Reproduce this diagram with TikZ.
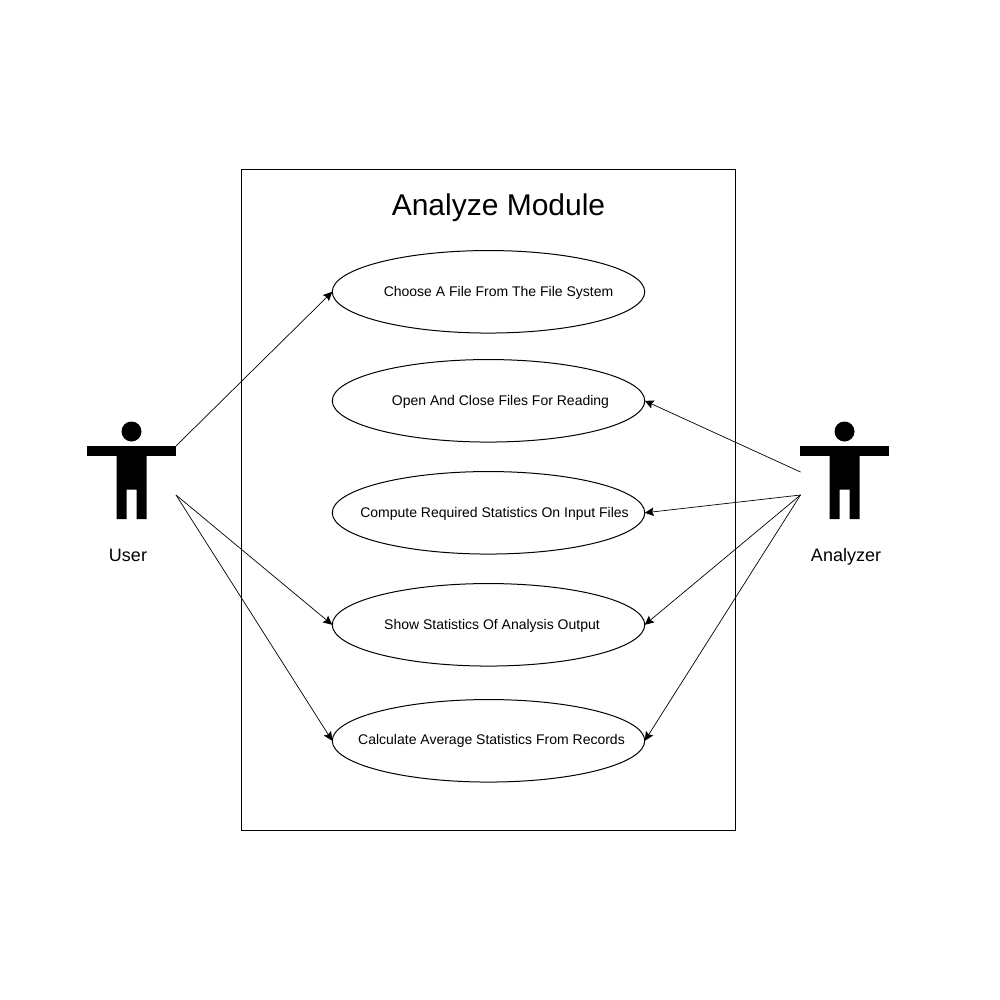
\documentclass[tikz,border=0pt]{standalone}
\usepackage{fontspec}
\setmainfont{Liberation Sans}
\usetikzlibrary{arrows.meta,shapes.geometric}

\tikzset{
  usecase/.style={draw,ellipse,minimum width=312.5pt,minimum height=82.5pt,inner sep=0pt,outer sep=0pt},
  caption/.style={inner sep=0pt,font=\fontsize{14}{16}\selectfont},
  actorname/.style={inner sep=0pt,font=\fontsize{18}{20}\selectfont},
  link/.style={-{Stealth[length=9pt,width=8.5pt,inset=1.5pt]},line width=0.7pt},
  actor/.pic={
    \fill (0,-14.5) circle (10pt);
    \fill (-44.5,0) rectangle (44.5,10);
    \fill (-15,10) -- (15,10) -- (15,73) -- (5,73) -- (5,43.5) -- (-5,43.5) -- (-5,73) -- (-15,73) -- cycle;
  }
}

\begin{document}
\begin{tikzpicture}[x=1pt,y=-1pt,line width=1pt]
  \useasboundingbox (0,0) rectangle (1000,1000);
  \draw (241.5,169.5) rectangle (735.5,830);
  \node[inner sep=0pt,font=\fontsize{30}{34}\selectfont] (title) at (498.5,207.5) {Analyze Module};

  % use cases
  \node[usecase] (choose) at (488.5,291.8) {};
  \node[usecase] (open) at (488.5,400.8) {};
  \node[usecase] (compute) at (488.5,512.8) {};
  \node[usecase] (show) at (488.5,624.8) {};
  \node[usecase] (calculate) at (488.5,740.8) {};
  \node[caption] (chooseText) at (498.5,293) {Choose A File From The File System};
  \node[caption] (openText) at (500.5,402) {Open And Close Files For Reading};
  \node[caption] (computeText) at (494.5,514) {Compute Required Statistics On Input Files};
  \node[caption] (showText) at (492,626) {Show Statistics Of Analysis Output};
  \node[caption] (calculateText) at (491.5,741) {Calculate Average Statistics From Records};

  % actors
  \pic at (131.5,446) {actor};
  \pic at (844.5,446) {actor};
  \node[actorname] (user) at (128,555) {User};
  \node[actorname] (analyzer) at (846,557) {Analyzer};
  \coordinate (userTop) at (176,446);
  \coordinate (userLow) at (176,495);
  \coordinate (analyzerTop) at (800.5,472);
  \coordinate (analyzerLow) at (800.5,495);

  \draw[link] (userTop) -- (choose.west);
  \draw[link] (userLow) -- (show.west);
  \draw[link] (userLow) -- (calculate.west);
  \draw[link] (analyzerTop) -- (open.east);
  \draw[link] (analyzerLow) -- (compute.east);
  \draw[link] (analyzerLow) -- (show.east);
  \draw[link] (analyzerLow) -- (calculate.east);
\end{tikzpicture}
\end{document}
